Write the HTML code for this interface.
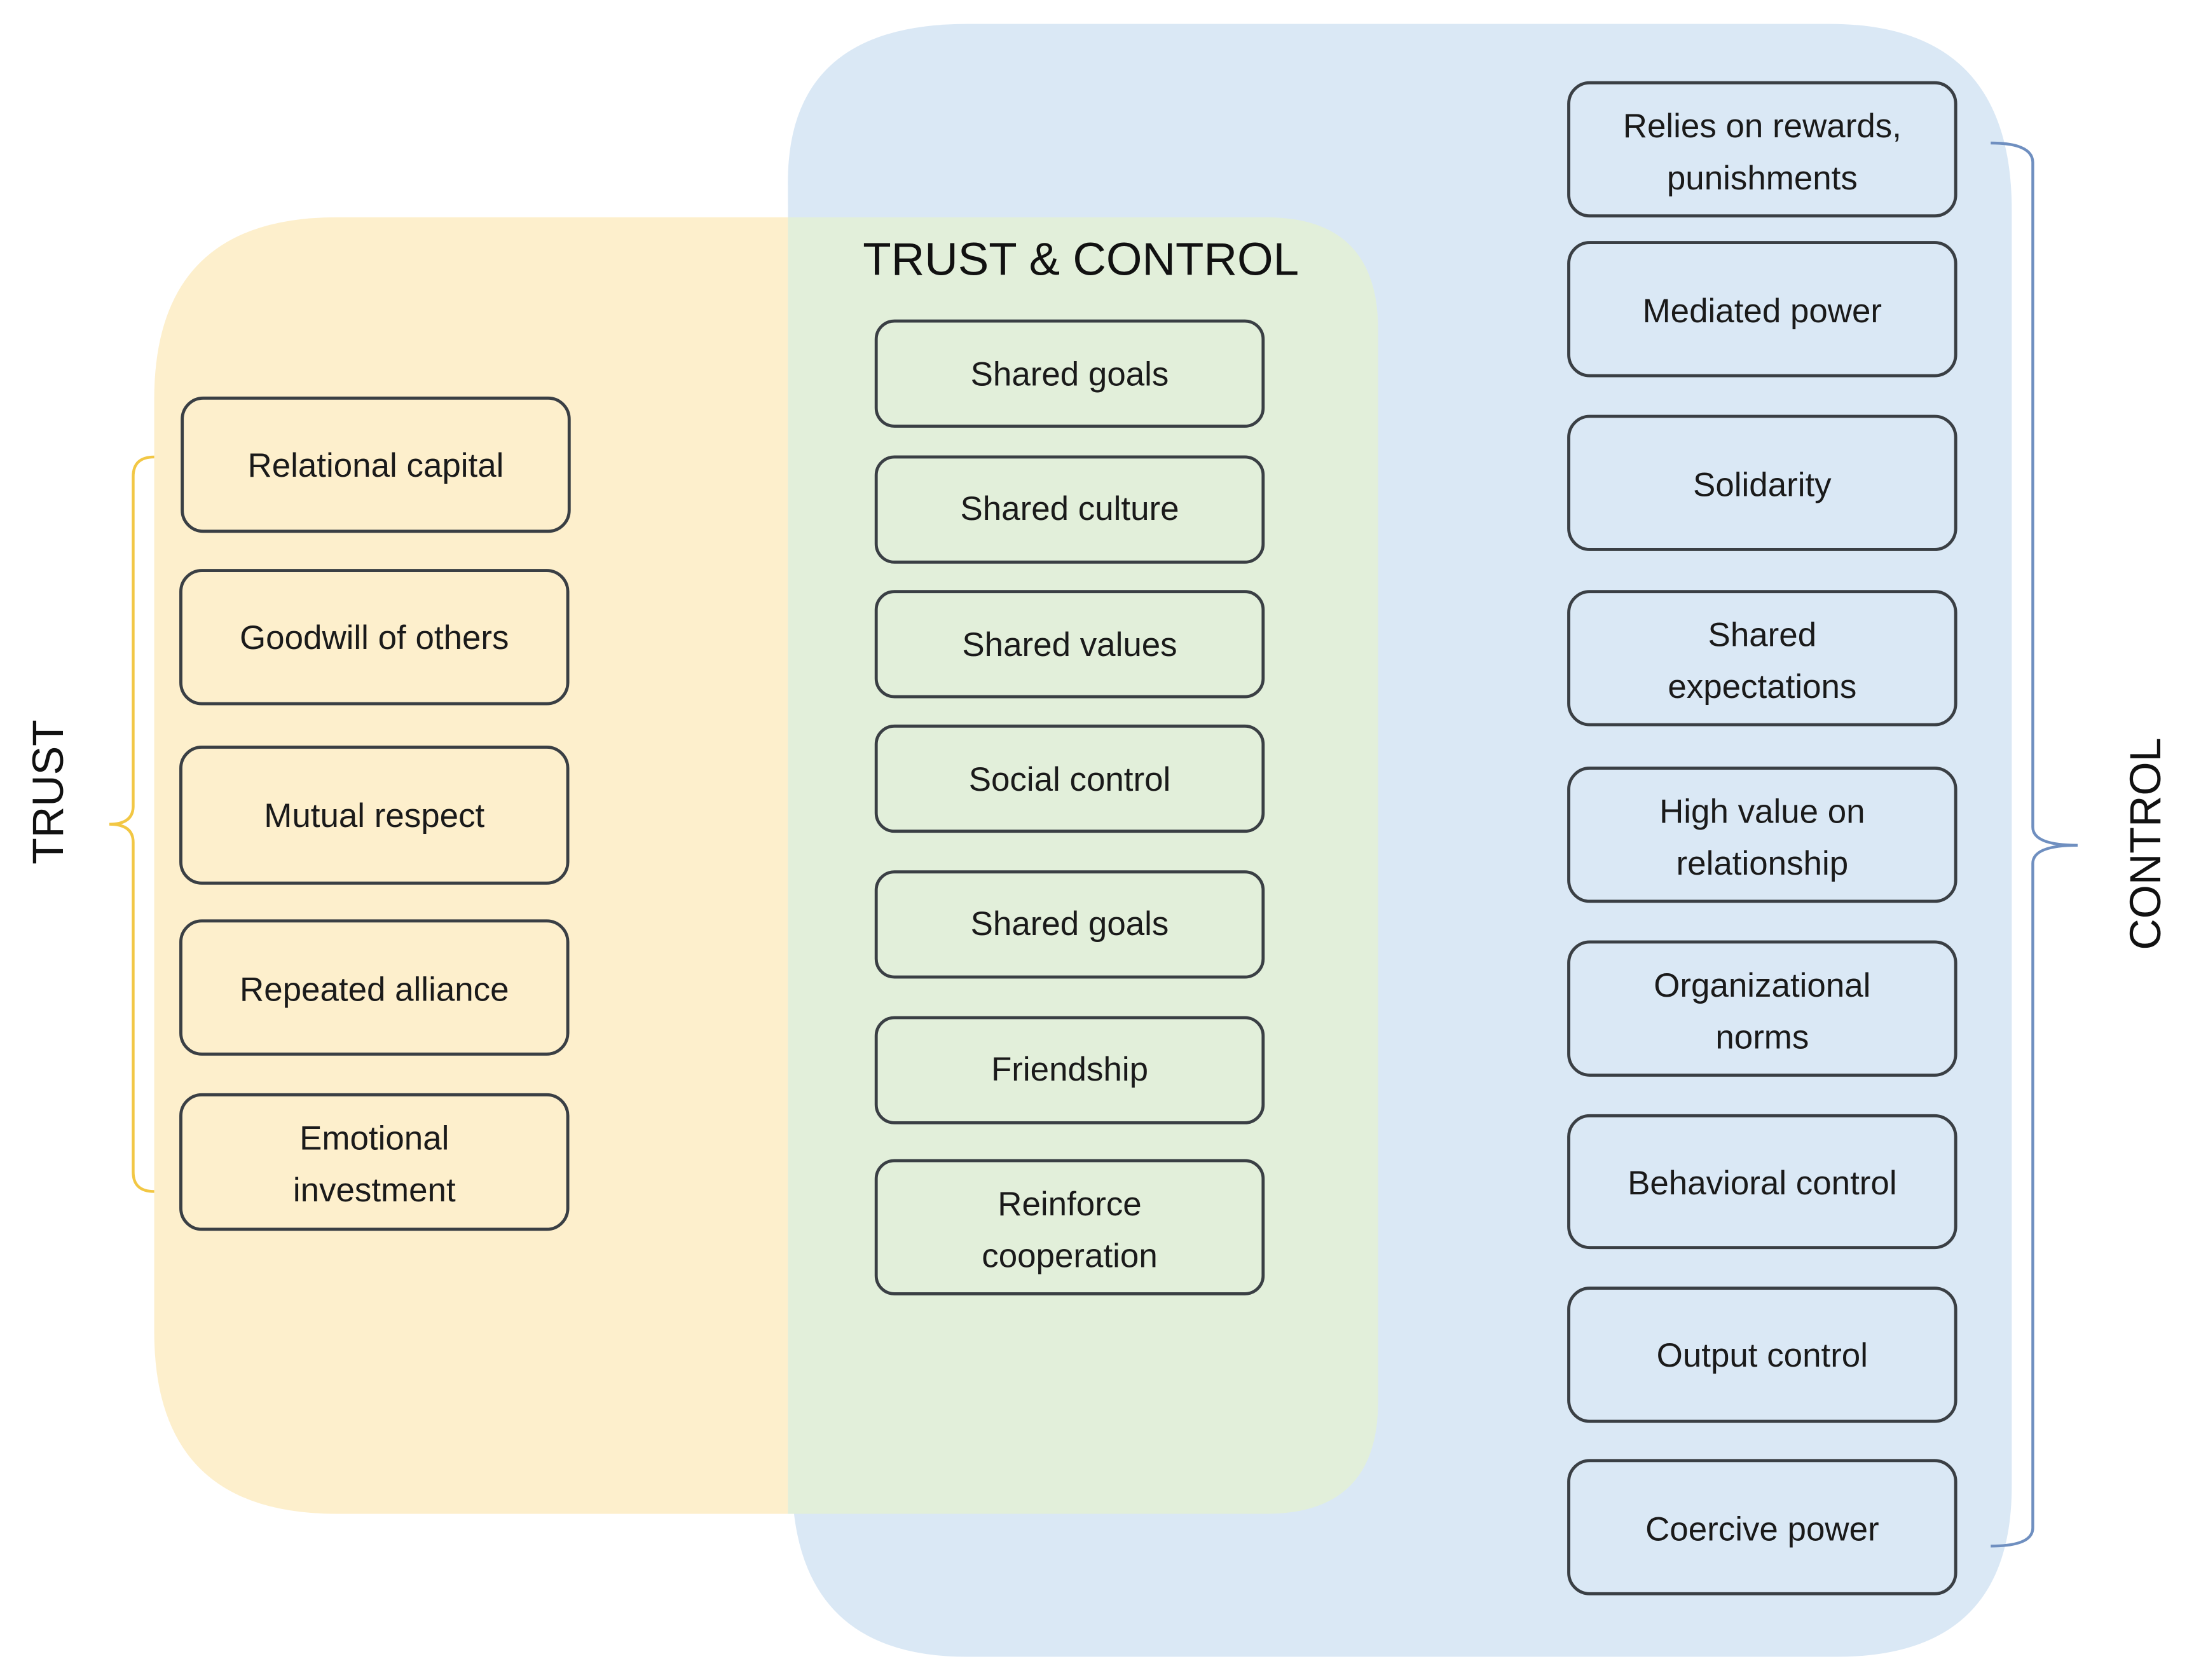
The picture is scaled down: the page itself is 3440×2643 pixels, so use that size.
<!DOCTYPE html>
<html><head><meta charset="utf-8"><style>html,body{margin:0;padding:0;background:#fff}svg{display:block}</style></head><body>
<svg width="3440" height="2643" viewBox="0 0 1560 1198.5" xmlns="http://www.w3.org/2000/svg" font-family="'Liberation Sans', sans-serif">
<path d="M562,130 Q562,17 690,17 L1305,17 Q1435,17 1435,150 L1435,1060 Q1435,1182 1310,1182 L690,1182 Q568,1182 565,1060 Z" fill="#dae8f5"/>
<path d="M240,155 L562,155 L562,1080 L240,1080 Q110,1080 110,950 L110,285 Q110,155 240,155 Z" fill="#fdefcc"/>
<path d="M562,155 L903,155 Q983,155 983,235 L983,1000 Q983,1080 903,1080 L562,1080 Z" fill="#e2efda"/>
<path d="M110,326 Q95,326 95,340 L95,575 Q95,588 78,588 Q95,588 95,601 L95,836 Q95,850 110,850" fill="none" stroke="#f2c744" stroke-width="2"/>
<path d="M1420,102 Q1450,102 1450,116 L1450,590 Q1450,603 1482,603 Q1450,603 1450,616 L1450,1090 Q1450,1103 1420,1103" fill="none" stroke="#6f8fc0" stroke-width="2"/>
<text x="771" y="196" font-size="33" text-anchor="middle" fill="#111">TRUST &amp; CONTROL</text>
<text transform="translate(45,565) rotate(-90)" font-size="31" text-anchor="middle" fill="#111">TRUST</text>
<text transform="translate(1541,602) rotate(-90)" font-size="31" text-anchor="middle" fill="#111">CONTROL</text>
<g stroke="#3a3f44" stroke-width="2.2" fill="none">
<rect x="130" y="284" width="276" height="95" rx="15"/><rect x="129" y="407" width="276" height="95" rx="15"/><rect x="129" y="533" width="276" height="97" rx="15"/><rect x="129" y="657" width="276" height="95" rx="15"/><rect x="129" y="781" width="276" height="96" rx="15"/>
<rect x="625" y="229" width="276" height="75" rx="13"/><rect x="625" y="326" width="276" height="75" rx="13"/><rect x="625" y="422" width="276" height="75" rx="13"/><rect x="625" y="518" width="276" height="75" rx="13"/><rect x="625" y="622" width="276" height="75" rx="13"/><rect x="625" y="726" width="276" height="75" rx="13"/><rect x="625" y="828" width="276" height="95" rx="13"/>
<rect x="1119" y="59" width="276" height="95" rx="15"/><rect x="1119" y="173" width="276" height="95" rx="15"/><rect x="1119" y="297" width="276" height="95" rx="15"/><rect x="1119" y="422" width="276" height="95" rx="15"/><rect x="1119" y="548" width="276" height="95" rx="15"/><rect x="1119" y="672" width="276" height="95" rx="15"/><rect x="1119" y="796" width="276" height="94" rx="15"/><rect x="1119" y="919" width="276" height="95" rx="15"/><rect x="1119" y="1042" width="276" height="95" rx="15"/>
</g>
<g font-size="24" text-anchor="middle" fill="#1a1a1a">
<text x="268" y="340">Relational capital</text>
<text x="267" y="463">Goodwill of others</text>
<text x="267" y="590">Mutual respect</text>
<text x="267" y="714">Repeated alliance</text>
<text x="267" y="820">Emotional</text><text x="267" y="857">investment</text>
<text x="763" y="275">Shared goals</text>
<text x="763" y="371">Shared culture</text>
<text x="763" y="468">Shared values</text>
<text x="763" y="564">Social control</text>
<text x="763" y="667">Shared goals</text>
<text x="763" y="771">Friendship</text>
<text x="763" y="867">Reinforce</text><text x="763" y="904">cooperation</text>
<text x="1257" y="98">Relies on rewards,</text><text x="1257" y="135">punishments</text>
<text x="1257" y="230">Mediated power</text>
<text x="1257" y="354">Solidarity</text>
<text x="1257" y="461">Shared</text><text x="1257" y="498">expectations</text>
<text x="1257" y="587">High value on</text><text x="1257" y="624">relationship</text>
<text x="1257" y="711">Organizational</text><text x="1257" y="748">norms</text>
<text x="1257" y="852">Behavioral control</text>
<text x="1257" y="975">Output control</text>
<text x="1257" y="1099">Coercive power</text>
</g>
</svg>
</body></html>
